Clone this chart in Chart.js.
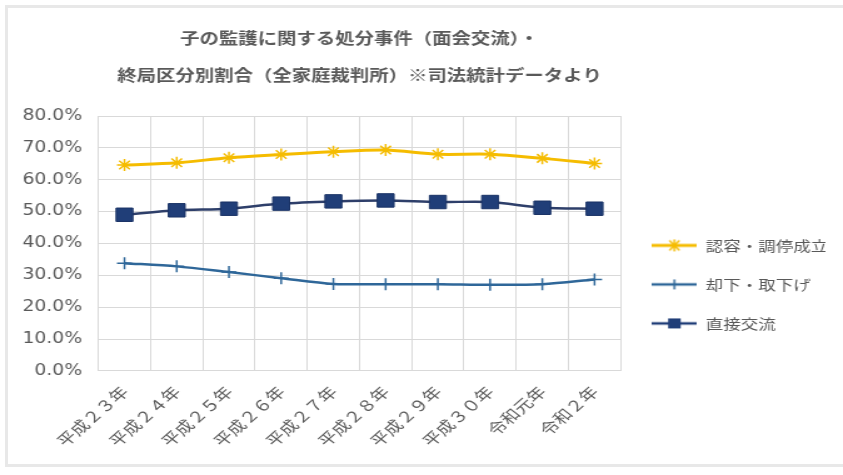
<!DOCTYPE html>
<html>
<head>
<meta charset="utf-8">
<script src="https://cdn.jsdelivr.net/npm/chart.js@4.4.1/dist/chart.umd.min.js"></script>
<style>
  html, body { margin: 0; padding: 0; background: #fff; }
  body { width: 843px; height: 475px; position: relative; overflow: hidden; }
  #frame { position: absolute; left: 5px; top: 5px; width: 860px; height: 462px;
           border: 3px solid #e8e8e8; box-sizing: border-box; }
  /* the source picture is stretched sideways, so draw narrow and scale */
  #wrap { position: absolute; left: 0; top: 0; width: 674px; height: 475px;
          transform: scaleX(1.2507); transform-origin: 0 0; }
</style>
</head>
<body>
<div id="frame"></div>
<div id="wrap"><canvas id="lineChart"></canvas></div>
<script>
// data (percent)
const categories = ['平成２３年', '平成２４年', '平成２５年', '平成２６年', '平成２７年',
                    '平成２８年', '平成２９年', '平成３０年', '令和元年', '令和２年'];
const seriesNames = ['認容・調停成立', '却下・取下げ', '直接交流'];
const approved = [64.6, 65.3, 66.9, 67.9, 68.8, 69.3, 68.0, 68.0, 66.7, 65.1];
const dismissed = [33.8, 32.8, 31.0, 29.1, 27.3, 27.2, 27.2, 27.0, 27.2, 28.7];
const directContact = [49.0, 50.4, 50.9, 52.5, 53.2, 53.5, 53.0, 53.0, 51.2, 50.9];
const titleLines = ['子の監護に関する処分事件（面会交流）・', '終局区分別割合（全家庭裁判所）※司法統計データより'];

const yellow = '#F5BC00';
const blue = '#2F6799';
const navy = '#203E78';
const grey = '#595959';
const gridColor = '#d9d9d9';

// small legend icon: line with marker in the middle
function makeIcon(color, marker, lineWidth) {
  const c = document.createElement('canvas');
  c.width = 36; c.height = 16;
  const ctx = c.getContext('2d');
  ctx.strokeStyle = color;
  ctx.lineWidth = lineWidth;
  ctx.beginPath(); ctx.moveTo(0, 8); ctx.lineTo(36, 8); ctx.stroke();
  ctx.lineWidth = 1.5;
  ctx.beginPath();
  if (marker === 'star') {
    ctx.moveTo(14, 3); ctx.lineTo(22, 13);
    ctx.moveTo(22, 3); ctx.lineTo(14, 13);
    ctx.moveTo(18, 2); ctx.lineTo(18, 14);
    ctx.stroke();
  } else if (marker === 'cross') {
    ctx.moveTo(18, 3); ctx.lineTo(18, 13);
    ctx.stroke();
  } else {
    ctx.fillStyle = color;
    ctx.fillRect(13, 3, 10, 10);
  }
  return c;
}

const icons = [makeIcon(yellow, 'star', 3), makeIcon(blue, 'cross', 2.5), makeIcon(navy, 'rect', 2.5)];

new Chart(document.getElementById('lineChart'), {
  type: 'line',
  data: {
    labels: categories,
    datasets: [
      {
        label: seriesNames[0],
        data: approved,
        borderColor: yellow,
        backgroundColor: yellow,
        borderWidth: 3,
        pointStyle: 'star',
        pointRadius: 6,
        pointBorderWidth: 1.5,
        tension: 0.3
      },
      {
        label: seriesNames[1],
        data: dismissed,
        borderColor: blue,
        backgroundColor: blue,
        borderWidth: 2.5,
        pointStyle: 'cross',
        pointRadius: 6,
        pointBorderWidth: 1.5,
        tension: 0.3
      },
      {
        label: seriesNames[2],
        data: directContact,
        borderColor: '#2E3F6A',
        backgroundColor: navy,
        pointBorderColor: '#1A3366',
        borderWidth: 2.5,
        pointStyle: 'rect',
        pointRadius: 9.5,
        pointBorderWidth: 1,
        tension: 0.3
      }
    ]
  },
  options: {
    responsive: true,
    maintainAspectRatio: false,
    animation: false,
    layout: { padding: { left: 5, right: 14, top: 0, bottom: 13 } },
    plugins: {
      title: {
        display: true,
        fullSize: false,
        text: titleLines,
        color: grey,
        font: { family: "'Noto Sans CJK JP', sans-serif", size: 15.5, weight: 'bold', lineHeight: 37 / 15.5 },
        padding: { top: 19.5, bottom: 22.5 }
      },
      legend: {
        position: 'right',
        fullSize: false,
        title: { display: true, text: ' ', font: { size: 10 }, padding: { top: 70, bottom: 0 } },
        labels: {
          usePointStyle: true,
          pointStyleWidth: 36,
          padding: 25,
          color: grey,
          font: { family: "'Noto Sans CJK JP', sans-serif", size: 14 },
          generateLabels(chart) {
            return chart.data.datasets.map((ds, i) => ({
              text: ds.label,
              pointStyle: icons[i],
              fillStyle: ds.backgroundColor,
              strokeStyle: ds.borderColor,
              lineWidth: 0,
              hidden: false,
              datasetIndex: i,
              fontColor: grey
            }));
          }
        }
      },
      tooltip: { enabled: false }
    },
    scales: {
      x: {
        offset: true,
        grid: { offset: true, color: gridColor, drawTicks: false },
        border: { color: gridColor },
        ticks: {
          color: grey,
          padding: 12,
          minRotation: 47,
          maxRotation: 47,
          font: { family: "'Noto Sans CJK JP', sans-serif", size: 15 }
        }
      },
      y: {
        min: 0,
        max: 80,
        grid: { color: gridColor, drawTicks: false },
        border: { color: gridColor },
        ticks: {
          stepSize: 10,
          padding: 13,
          color: grey,
          font: { family: "'DejaVu Sans', sans-serif", size: 15 },
          callback: v => v.toFixed(1) + '%'
        }
      }
    }
  }
});
</script>
</body>
</html>
